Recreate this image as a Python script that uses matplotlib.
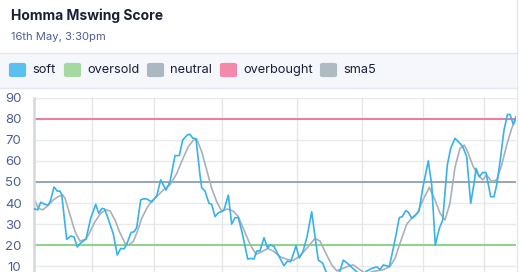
import matplotlib.pyplot as plt
from matplotlib.patches import FancyBboxPatch, Rectangle

# ---- data ----
title = 'Homma Mswing Score'
subtitle = '16th May, 3:30pm'

soft_t = [0.7, 3.7, 6.7, 11, 14.3, 16.7, 20, 23.3, 26, 27.7, 32.7, 36.7, 40, 43.3, 46,
          52, 56.7, 61.7, 64.7, 68, 70.7, 74, 79.3, 83.3, 86.7, 90, 92.7, 97, 100.3,
          102.7, 106.7, 109.3, 112.7, 117.7, 122.7, 126.7, 132, 136, 141, 145.3, 148.7,
          153.3, 156, 158.7, 162, 166, 167.7, 171, 175, 177.7, 181, 184.3, 188.7, 190.3,
          194.3, 197.7, 201, 204.3, 208.3, 213.7, 217, 220, 222.7, 226, 230, 233.7, 236,
          240, 244.3, 250, 253.3, 256.7, 262, 265.3, 269, 273, 277.7, 281, 284.3, 288.7,
          292, 296, 302, 306, 309.3, 313.3, 318.7, 322.7, 328, 332.7, 337.7, 342.7, 346,
          349.3, 355.3, 359.3, 362, 365.3, 368.3, 371.7, 374.3, 377.7, 381, 385, 388.7,
          394.3, 397.7, 401.3, 405.3, 408.7, 413.3, 416.7, 421, 425, 428.7, 432.7, 436.7,
          440.3, 442, 445.3, 448.7, 452, 456.7, 460, 462.7, 466, 470, 473.5, 476, 479.3, 482]
soft = [37.2, 36.8, 40.4, 39.4, 39, 41.5, 47.6, 45.7, 45.7, 44, 22.8, 24.4, 24, 19.2, 20.8,
        23, 32.8, 39.4, 35.2, 37.5, 37.2, 32.8, 25.4, 15.4, 18.5, 18.3, 20.5, 26, 26.5,
        28.4, 41.5, 42, 42, 40.5, 43.4, 51, 46.2, 50.2, 62.5, 62.5, 69.9, 72.3, 72.6, 70.8,
        70.5, 53.3, 47.3, 45.7, 39.9, 39.4, 33.6, 35.4, 36.2, 37.2, 43.8, 30, 33.1, 33.1,
        25.7, 13.5, 13.8, 13.5, 17.3, 17.3, 23.6, 18.6, 20.2, 19.5, 15.4, 10.3, 12.5, 12.2,
        19.7, 14, 17, 24, 35.9, 24.1, 13, 11.5, 7.5, 5, 4.5, 8, 13, 11.5, 9.1, 7.5, 5.5,
        7.8, 9, 9.8, 8.5, 10.7, 9.9, 18.6, 24.9, 33.1, 33.6, 36.4, 35.7, 32.8, 34, 36.2,
        47, 60, 48.6, 20.1, 28, 32, 58, 66, 70.7, 68.8, 66.8, 62, 39.9, 50.1, 56.5, 52.5,
        54.5, 54.5, 43, 43, 48.6, 59.5, 74.6, 82, 82, 77.3, 81]

sma5_t = [0.7, 4.3, 8.7, 12.7, 19.3, 24.3, 28.7, 31, 36, 41, 46, 52, 55.3, 61, 66.7, 72,
          76, 81, 85.3, 91, 94.3, 99.3, 103.3, 107.7, 112.7, 117.7, 122.7, 129.3, 136,
          142.7, 149.3, 154.3, 159.3, 162.7, 167.7, 172.7, 177.7, 182.7, 187.7, 193.3,
          199.3, 204.3, 210, 216, 222, 227.7, 233.7, 239.3, 246, 252.7, 259.3, 266, 272.7,
          281, 286, 291, 297.7, 302.7, 309.3, 316, 319.3, 326, 332, 339, 349.3, 356, 361,
          366, 372.7, 377.7, 383.3, 389, 395.3, 401, 406, 411, 416, 421, 426, 430.3, 434.3,
          439.3, 444.3, 448.7, 452.7, 457.7, 462.7, 467.7, 472.7, 477.7, 482]
sma5 = [41.5, 37.5, 36.8, 38.3, 41.5, 43.1, 43.9, 42.3, 34.4, 26.5, 22, 22.9, 25.7, 31.2,
        35.2, 36.8, 36.3, 32, 26.6, 21, 20, 21.8, 26.5, 32.8, 37.5, 41, 43.1, 46.2, 48.6,
        54, 61.5, 66.7, 69.8, 70.3, 64.4, 55.7, 47, 40.7, 36.2, 37.2, 36.2, 33.6, 27.2,
        20.5, 15.7, 16.9, 18.5, 17.3, 14.6, 13.4, 12.8, 15, 18.5, 23.3, 22, 17, 10.7, 7.9,
        9.1, 10.4, 10.7, 8.4, 6.5, 7.6, 8.4, 10, 13.8, 21, 30, 32.8, 35.2, 41.5, 47.5, 41.5,
        35.2, 32, 40, 57, 66, 67.5, 63.6, 57.2, 53.3, 51, 53.3, 50.2, 51, 58, 67.5, 75.4, 80]

oversold, neutral, overbought = 20, 50, 80
grid_t = [58, 120, 188, 263, 328, 389, 450]
y_ticks = [10, 20, 30, 40, 50, 60, 70, 80, 90]

legend_names = ['soft', 'oversold', 'neutral', 'overbought', 'sma5']
legend_colors = ['#5bbfef', '#a5d9a0', '#aab8c2', '#f48aab', '#aebbc3']

W, H = 520, 272
fig = plt.figure(figsize=(W / 100, H / 100), dpi=100)
fig.patch.set_facecolor('white')

def fx(px):
    return px / W

def fy(py):
    return 1 - py / H

# header + legend band
fig.text(fx(11), fy(16), title, fontsize=10, fontweight='bold', family='Inter',
         color='#1a1f36', va='center', ha='left')
fig.text(fx(11), fy(37), subtitle, fontsize=8.1, family='Inter',
         color='#4f5f92', va='center', ha='left')
fig.add_artist(Rectangle((0, fy(88)), fx(516), fy(53) - fy(88), transform=fig.transFigure,
                         facecolor='#f5f7fc', edgecolor='none'))
for yy in (53, 88):
    fig.add_artist(plt.Line2D([0, fx(516)], [fy(yy), fy(yy)], transform=fig.transFigure,
                              color='#e3e7ef', lw=1))
fig.add_artist(plt.Line2D([fx(516.5), fx(516.5)], [0, 1], transform=fig.transFigure,
                          color='#e3e7ef', lw=1))

patch_x = [9, 64, 147, 220, 320]
for name, col, px in zip(legend_names, legend_colors, patch_x):
    fig.add_artist(FancyBboxPatch((fx(px + 2), fy(76)), fx(13), fy(64) - fy(76),
                                  boxstyle='round,pad=0.004,rounding_size=0.006',
                                  transform=fig.transFigure, facecolor=col, edgecolor='none'))
    fig.text(fx(px + 23), fy(70), name, fontsize=9.2, family='Inter', color='#1a1f36',
             va='center', ha='left')

# plot area (bottom part runs off the figure like the reference)
ax = fig.add_axes([fx(34), fy(287.5), fx(516) - fx(34), fy(97.6) - fy(287.5)])
ax.set_xlim(0, 482)
ax.set_ylim(0, 90)
ax.set_yticks(y_ticks)
ax.set_xticks([])
ax.grid(False)
for g in y_ticks:
    ax.axhline(g, color='#e8eaee', lw=1, zorder=0)
for g in grid_t:
    ax.axvline(g, color='#e4e6ea', lw=1, zorder=0)
for s in ['top', 'right', 'bottom']:
    ax.spines[s].set_visible(False)
ax.spines['left'].set_color('#d3d7de')
ax.spines['left'].set_linewidth(1.8)
ax.tick_params(axis='y', length=0, pad=9, labelsize=9.5, labelcolor='#4f5f92')
for lab in ax.get_yticklabels():
    lab.set_family('Inter')

ax.axhline(overbought, color='#f0648f', lw=1.2, zorder=1)
ax.axhline(neutral, color='#8b9aa6', lw=1.2, zorder=1)
ax.axhline(oversold, color='#7cce78', lw=1.2, zorder=1)

ax.plot(sma5_t, sma5, color='#a9b1b8', lw=1.2, zorder=2)
ax.plot(soft_t, soft, color='#36b2ec', lw=1.2, zorder=3)

plt.savefig('out.png', dpi=100, facecolor='white')
